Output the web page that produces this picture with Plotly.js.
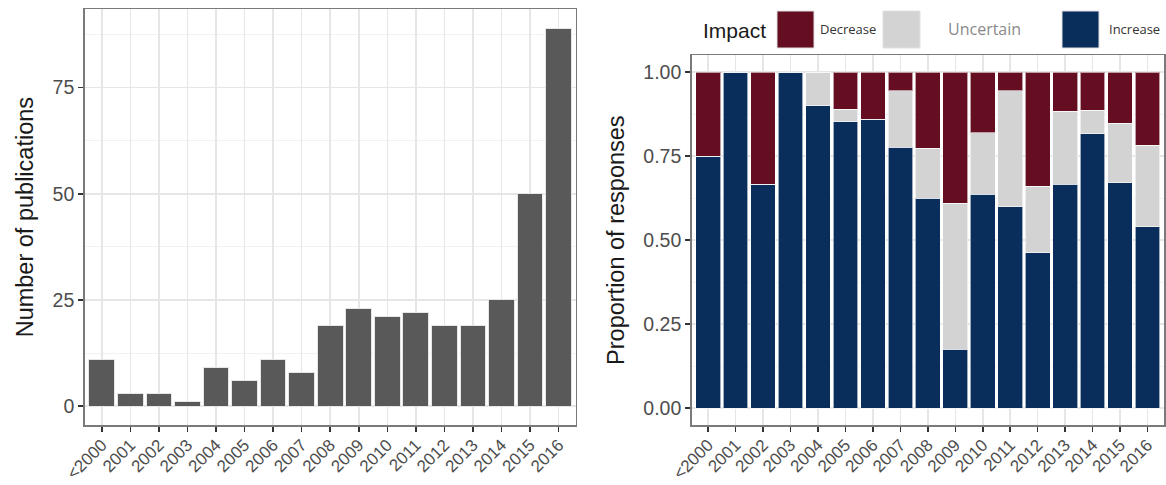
<!DOCTYPE html>
<html>
<head>
<meta charset="utf-8">
<script src="https://cdn.plot.ly/plotly-3.0.1.min.js"></script>
<style>
html,body{margin:0;padding:0;background:#fff;}
#chart{width:1166px;height:485px;}
</style>
</head>
<body>
<div id="chart"></div>
<script>
const years = ['<2000','2001','2002','2003','2004','2005','2006','2007','2008','2009','2010','2011','2012','2013','2014','2015','2016'];
const publications = [11,3,3,1,9,6,11,8,19,23,21,22,19,19,25,50,89];
const increase  = [0.75,1.00,0.667,1.00,0.90,0.853,0.86,0.776,0.625,0.175,0.637,0.600,0.462,0.667,0.817,0.671,0.540];
const uncertain = [0.00,0.00,0.000,0.00,0.10,0.036,0.00,0.168,0.149,0.435,0.182,0.344,0.198,0.216,0.069,0.177,0.242];
const decrease  = [0.25,0.00,0.333,0.00,0.00,0.111,0.14,0.056,0.226,0.390,0.181,0.056,0.340,0.117,0.114,0.152,0.218];
const yTicksLeft = [0,25,50,75];
const yTicksRight = [0,0.25,0.5,0.75,1];
const yTickTextRight = ['0.00','0.25','0.50','0.75','1.00'];

const colDec = '#650d21', colUnc = '#d3d3d3', colInc = '#0a2e5c';
const W = 1166, H = 485;
const px = v => v / W;
const py = v => (H - v) / H;

const traces = [
  {type:'bar', x:years, y:publications, xaxis:'x', yaxis:'y', marker:{color:'#595959', line:{color:'#e6e6e6', width:1}}, showlegend:false, hoverinfo:'x+y'},
  {type:'bar', name:'Increase', x:years, y:increase, xaxis:'x2', yaxis:'y2', marker:{color:colInc, line:{color:'rgba(255,255,255,0.6)', width:1}}, showlegend:false},
  {type:'bar', name:'Uncertain', x:years, y:uncertain, xaxis:'x2', yaxis:'y2', marker:{color:colUnc, line:{color:'rgba(255,255,255,0.6)', width:1}}, showlegend:false},
  {type:'bar', name:'Decrease', x:years, y:decrease, xaxis:'x2', yaxis:'y2', marker:{color:colDec, line:{color:'rgba(255,255,255,0.6)', width:1}}, showlegend:false}
];

const tickFont = {family:'Liberation Sans, Arial, sans-serif', size:19.5, color:'#4d4d4d'};
const xTickFont = {family:'Liberation Sans, Arial, sans-serif', size:17, color:'#4d4d4d'};
const titleFont = {family:'Liberation Sans, Arial, sans-serif', size:23.5, color:'#1a1a1a'};
const common = {showline:true, mirror:true, linecolor:'#7a7a7a', linewidth:1.5, zeroline:false,
  ticks:'outside', ticklen:5, tickcolor:'#333', tickwidth:1.5, gridcolor:'#e6e6e6', gridwidth:1.5};

const layout = {
  width:W, height:H,
  margin:{l:0,r:0,t:0,b:0},
  paper_bgcolor:'#fff', plot_bgcolor:'#fff',
  barmode:'stack', bargap:0.1,
  showlegend:false,
  font:{family:'Liberation Sans, Arial, sans-serif'},
  xaxis:Object.assign({}, common, {domain:[px(84.7), px(575.7)], anchor:'y', type:'category', range:[-0.6,16.6],
    tickangle:-45, tickfont:xTickFont, ticklabelstandoff:-3, automargin:false}),
  yaxis:Object.assign({}, common, {domain:[py(425), py(9.3)], anchor:'x', range:[-4.45,93.45],
    tickvals:yTicksLeft, ticktext:yTicksLeft.map(String), tickfont:tickFont, automargin:false,
    minor:{showgrid:true, gridcolor:'#efefef', gridwidth:0.8, tickvals:[12.5,37.5,62.5,87.5], ticks:''},
    title:{text:'Number of publications', font:titleFont, standoff:12}}),
  xaxis2:Object.assign({}, common, {domain:[px(691.7), px(1164)], anchor:'y2', type:'category', range:[-0.6,16.6],
    tickangle:-45, tickfont:xTickFont, ticklabelstandoff:-3, automargin:false}),
  yaxis2:Object.assign({}, common, {domain:[py(425), py(55.3)], anchor:'x2', range:[-0.05,1.05],
    tickvals:yTicksRight, ticktext:yTickTextRight, tickfont:tickFont, automargin:false,
    minor:{showgrid:true, gridcolor:'#efefef', gridwidth:0.8, tickvals:[0.125,0.375,0.625,0.875], ticks:''},
    title:{text:'Proportion of responses', font:titleFont, standoff:12}}),
  shapes:[
    {type:'rect', xref:'paper', yref:'paper', x0:px(777), x1:px(814), y0:py(48), y1:py(11), fillcolor:colDec, line:{color:'#e0e0e0', width:1}},
    {type:'rect', xref:'paper', yref:'paper', x0:px(883), x1:px(920), y0:py(48), y1:py(11), fillcolor:colUnc, line:{color:'#e0e0e0', width:1}},
    {type:'rect', xref:'paper', yref:'paper', x0:px(1062), x1:px(1099), y0:py(48), y1:py(11), fillcolor:colInc, line:{color:'#e0e0e0', width:1}}
  ],
  annotations:[
    {xref:'paper', yref:'paper', x:px(701), y:py(31), xanchor:'left', yanchor:'middle', showarrow:false, text:'Impact',
      font:{family:'Liberation Sans, Arial, sans-serif', size:21, color:'#1a1a1a'}},
    {xref:'paper', yref:'paper', x:px(818), y:py(29), xanchor:'left', yanchor:'middle', showarrow:false, text:'Decrease',
      font:{family:'Open Sans, sans-serif', size:13, color:'#333'}},
    {xref:'paper', yref:'paper', x:px(946), y:py(29), xanchor:'left', yanchor:'middle', showarrow:false, text:'Uncertain',
      font:{family:'Open Sans, sans-serif', size:16, color:'#8a8a8a'}},
    {xref:'paper', yref:'paper', x:px(1107), y:py(29), xanchor:'left', yanchor:'middle', showarrow:false, text:'Increase',
      font:{family:'Open Sans, sans-serif', size:13, color:'#333'}}
  ]
};

Plotly.newPlot('chart', traces, layout, {displayModeBar:false, staticPlot:true});
</script>
</body>
</html>
